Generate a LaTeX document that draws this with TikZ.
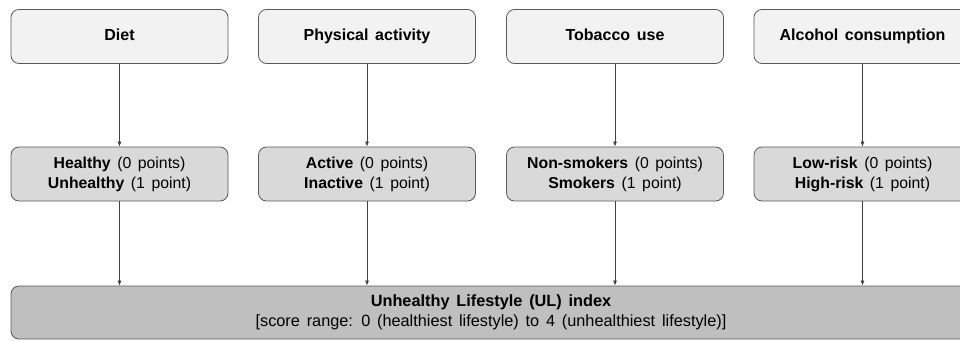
\documentclass[tikz,border=0pt]{standalone}
\usepackage{fontspec}
\setmainfont[WordSpace=1.5]{Liberation Sans}
\usetikzlibrary{arrows.meta}
\begin{document}
\begin{tikzpicture}[x=1pt,y=-1pt,
  box/.style={draw=black!65,line width=0.8pt,rounded corners=8pt,minimum width=217pt,minimum height=54pt,inner sep=0pt,align=center,font=\fontsize{15.8}{20}\selectfont},
  topbox/.style={box,fill=black!5,font=\fontsize{16}{19}\selectfont\bfseries,text height=11.5pt,text depth=3.5pt},
  midbox/.style={box,fill=black!15},
  botbox/.style={box,fill=black!25,minimum width=960pt,minimum height=53pt,font=\fontsize{16.3}{19.5}\selectfont},
  conn/.style={draw=black!75,line width=0.7pt,-{Latex[length=5pt,width=4pt]}}]
\useasboundingbox (0,0) rectangle (960,340);
\clip (0,0) rectangle (960,340);
\node[topbox] (t1) at (119.5,36.5) {Diet};
\node[topbox] (t2) at (367,36.5) {Physical activity};
\node[topbox] (t3) at (615,36.5) {Tobacco use};
\node[topbox] (t4) at (862.5,36.5) {Alcohol consumption};
\node[midbox] (m1) at (119.5,174) {\textbf{Healthy} (0 points)\\\textbf{Unhealthy} (1 point)};
\node[midbox] (m2) at (367,174) {\textbf{Active} (0 points)\\\textbf{Inactive} (1 point)};
\node[midbox] (m3) at (615,174) {\textbf{Non-smokers} (0 points)\\\textbf{Smokers} (1 point)};
\node[midbox] (m4) at (862.5,174) {\textbf{Low-risk} (0 points)\\\textbf{High-risk} (1 point)};
\node[botbox] (b) at (491,312.5) {\textbf{Unhealthy Lifestyle (UL) index}\\{}[score range: 0 (healthiest lifestyle) to 4 (unhealthiest lifestyle)]};
\foreach \i in {1,2,3,4}{
  \draw[conn] (t\i) -- (m\i);
  \draw[conn] (m\i) -- (m\i |- b.north);
}
\end{tikzpicture}
\end{document}
